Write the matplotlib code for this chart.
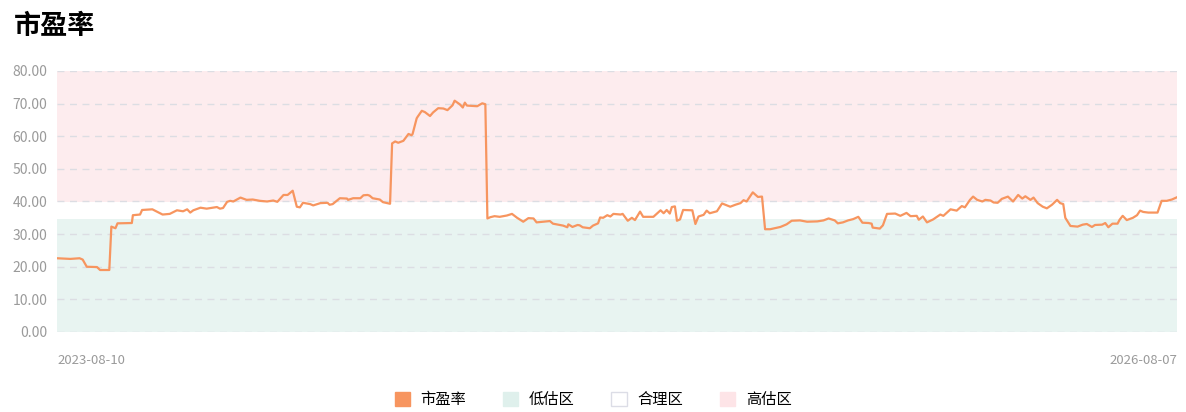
import matplotlib
matplotlib.use("Agg")
import matplotlib.pyplot as plt
from matplotlib.patches import Patch
import numpy as np
import pandas as pd

plt.rcParams['font.family'] = ['Noto Sans CJK SC', 'DejaVu Sans']

title = "市盈率"
start_date = "2023-08-10"
end_date = "2026-08-07"

# day offsets from start_date, and the PE value at that day
days = [0, 13, 22, 25, 29, 39, 42, 51, 53, 57, 59, 73, 74, 81, 83, 93, 98, 103, 110, 117,
        123, 127, 130, 133, 140, 146, 156, 159, 162, 166, 169, 172, 179, 185, 191, 198, 205, 211, 215, 221,
        225, 230, 234, 237, 240, 247, 250, 257, 264, 266, 269, 276, 283, 284, 289, 296, 299, 303, 305, 308,
        315, 318, 325, 327, 330, 333, 338, 343, 346, 347, 351, 352, 356, 359, 364, 367, 372, 377, 381, 386,
        388, 393, 396, 398, 400, 405, 410, 415, 418, 420, 423, 427, 432, 439, 444, 449, 455, 460, 465, 468,
        474, 481, 484, 494, 498, 499, 503, 508, 510, 513, 520, 523, 528, 530, 533, 537, 540, 543, 550, 552,
        557, 561, 564, 569, 572, 582, 589, 592, 595, 598, 600, 603, 605, 608, 611, 620, 623, 626, 631, 634,
        637, 644, 649, 657, 662, 667, 670, 673, 679, 684, 688, 691, 696, 706, 712, 717, 725, 732, 742, 748,
        753, 759, 762, 767, 772, 777, 782, 786, 792, 795, 796, 803, 806, 810, 818, 823, 829, 833, 839, 841,
        845, 849, 855, 862, 865, 872, 878, 883, 886, 891, 894, 898, 903, 906, 911, 914, 918, 922, 928, 933,
        938, 942, 945, 950, 953, 957, 962, 966, 971, 976, 979, 982, 984, 989, 996, 1001, 1005, 1010, 1013, 1020,
        1023, 1026, 1030, 1035, 1037, 1040, 1044, 1050, 1054, 1057, 1060, 1065, 1074, 1078, 1083, 1088, 1093]
pe = [22.6, 22.4, 22.6, 22.2, 20.0, 19.9, 19.0, 19.0, 32.3, 31.8, 33.3, 33.4, 35.8, 36.0, 37.4, 37.6, 36.8, 36.0, 36.2, 37.3,
      37.0, 37.6, 36.6, 37.3, 38.1, 37.8, 38.3, 37.8, 38.0, 39.9, 40.2, 40.0, 41.2, 40.5, 40.6, 40.2, 40.0, 40.3, 39.9, 42.0,
      42.0, 43.3, 38.4, 38.2, 39.6, 39.2, 38.8, 39.5, 39.6, 39.0, 39.2, 41.0, 40.9, 40.5, 41.0, 41.0, 41.9, 42.0, 41.8, 41.0,
      40.6, 39.8, 39.3, 57.8, 58.4, 58.0, 58.6, 60.7, 60.3, 60.7, 65.5, 66.0, 67.8, 67.4, 66.2, 67.3, 68.6, 68.5, 68.0, 69.5,
      70.9, 69.8, 68.8, 70.3, 69.4, 69.3, 69.2, 70.1, 69.8, 34.8, 35.2, 35.5, 35.3, 35.7, 36.2, 35.0, 33.8, 34.9, 34.8, 33.6,
      33.8, 34.0, 33.2, 32.6, 32.1, 33.0, 32.2, 32.8, 32.7, 32.1, 31.8, 32.6, 33.3, 35.1, 35.0, 35.8, 35.4, 36.2, 36.0, 36.2,
      34.1, 35.0, 34.3, 36.9, 35.3, 35.3, 37.3, 36.4, 37.4, 36.3, 38.3, 38.5, 34.1, 34.5, 37.4, 37.3, 33.1, 35.4, 35.9, 37.2,
      36.4, 37.0, 39.4, 38.4, 39.0, 39.5, 40.4, 40.0, 42.8, 41.4, 41.5, 31.5, 31.5, 32.2, 33.0, 34.1, 34.2, 33.8, 33.9, 34.2,
      34.8, 34.2, 33.3, 33.6, 34.2, 34.6, 35.3, 33.5, 33.4, 33.2, 32.0, 31.7, 32.7, 36.2, 36.3, 35.6, 36.5, 35.5, 35.6, 34.4,
      35.4, 33.6, 34.5, 36.0, 35.6, 37.6, 37.2, 38.6, 38.2, 40.5, 41.5, 40.5, 40.0, 40.5, 40.3, 39.7, 39.6, 40.8, 41.5, 40.0,
      42.0, 40.9, 41.6, 40.5, 41.2, 39.5, 38.4, 37.9, 39.0, 40.5, 39.5, 39.2, 35.0, 32.5, 32.3, 32.9, 33.1, 32.2, 32.8, 32.9,
      33.4, 32.1, 33.2, 33.2, 34.4, 35.6, 34.3, 35.0, 35.8, 37.2, 36.8, 36.6, 36.6, 40.2, 40.2, 40.6, 41.3]

low_top = 34.6
high_bottom = 39.8
y_max = 80

line_color = "#f7955f"
low_color = "#e8f4f1"
high_color = "#fdecee"
grey = "#9a9a9a"

dates = pd.Timestamp(start_date) + pd.to_timedelta(days, unit="D")

fig = plt.figure(figsize=(11.86, 4.12), dpi=100)
ax = fig.add_axes([0.0481, 0.1942, 0.9443, 0.6335])

ax.axhspan(0, low_top, color=low_color, lw=0, zorder=0)
ax.axhspan(high_bottom, y_max, color=high_color, lw=0, zorder=0)
ax.plot(dates, pe, color=line_color, lw=1.6, zorder=3)

ax.set_xlim(pd.Timestamp(start_date), pd.Timestamp(end_date))
ax.set_ylim(0, y_max)
ax.set_yticks(np.arange(0, 81, 10))
ax.set_yticklabels([f"{v:.2f}" for v in np.arange(0, 81, 10)], color=grey, fontsize=10)
ax.yaxis.grid(True, color="#dcdde3", ls=(0, (5, 4)), lw=1)
ax.set_axisbelow(False)
ax.tick_params(axis="y", length=0, pad=7)

ax.set_xticks([pd.Timestamp(start_date), pd.Timestamp(end_date)])
ax.set_xticklabels([start_date, end_date], color=grey, fontsize=9.5)
ax.tick_params(axis="x", length=0, pad=16)
xl = ax.get_xticklabels()
xl[0].set_ha("left")
xl[1].set_ha("right")

for s in ax.spines.values():
    s.set_visible(False)

fig.text(0.012, 0.937, title, fontsize=19.5, fontweight="bold", va="center", ha="left")

handles = [Patch(facecolor=line_color, edgecolor=line_color),
           Patch(facecolor="#dff0ec", edgecolor="#dff0ec"),
           Patch(facecolor="white", edgecolor="#dcdde6"),
           Patch(facecolor="#fde4e7", edgecolor="#fde4e7")]
fig.legend(handles, ["市盈率", "低估区", "合理区", "高估区"], loc="center", bbox_to_anchor=(0.5, 0.03),
           ncol=4, frameon=False, fontsize=11, handlelength=1.0, handleheight=1.0,
           handletextpad=0.7, columnspacing=2.4)

fig.savefig("out.png", dpi=100)
